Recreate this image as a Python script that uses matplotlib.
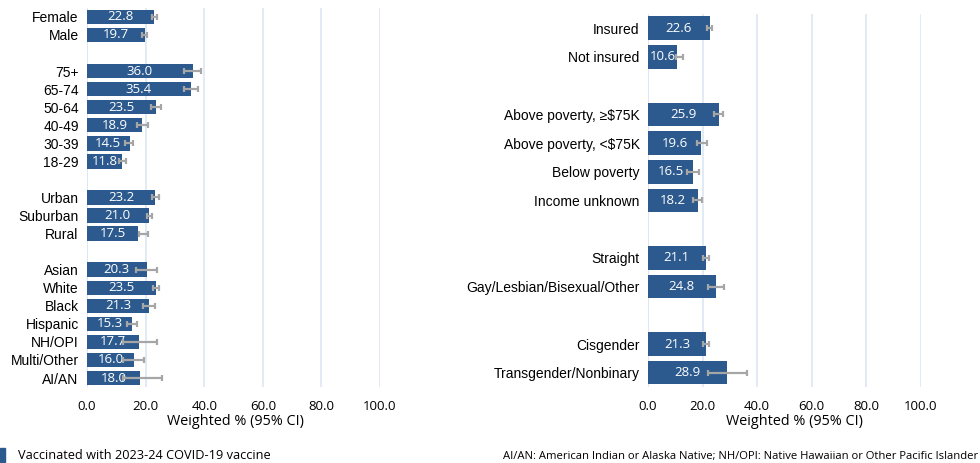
import numpy as np
import matplotlib.pyplot as plt
from matplotlib.patches import Rectangle

# left panel (None = blank spacer row)
left_labels = ['Female', 'Male', None,
               '75+', '65-74', '50-64', '40-49', '30-39', '18-29', None,
               'Urban', 'Suburban', 'Rural', None,
               'Asian', 'White', 'Black', 'Hispanic', 'NH/OPI', 'Multi/Other', 'AI/AN']
left_vals = [22.8, 19.7, None,
             36.0, 35.4, 23.5, 18.9, 14.5, 11.8, None,
             23.2, 21.0, 17.5, None,
             20.3, 23.5, 21.3, 15.3, 17.7, 16.0, 18.0]
left_lo = [22.2, 18.8, None,
           33.1, 33.1, 21.8, 17.0, 13.0, 11.0, None,
           22.1, 20.3, 17.9, None,
           16.7, 22.5, 19.0, 13.6, 12.4, 12.2, 12.4]
left_hi = [23.9, 20.5, None,
           38.9, 37.9, 25.2, 20.7, 15.8, 13.3, None,
           24.6, 22.1, 20.9, None,
           23.9, 24.6, 23.2, 17.1, 24.0, 19.4, 25.7]

# right panel
right_labels = ['Insured', 'Not insured', None,
                'Above poverty, ≥$75K', 'Above poverty, <$75K', 'Below poverty', 'Income unknown', None,
                'Straight', 'Gay/Lesbian/Bisexual/Other', None,
                'Cisgender', 'Transgender/Nonbinary']
right_vals = [22.6, 10.6, None, 25.9, 19.6, 16.5, 18.2, None, 21.1, 24.8, None, 21.3, 28.9]
right_lo = [21.6, 10.3, None, 24.2, 18.0, 14.3, 16.5, None, 20.1, 22.0, None, 20.3, 21.9]
right_hi = [23.4, 12.8, None, 27.5, 21.6, 18.7, 19.8, None, 22.3, 27.8, None, 22.3, 36.2]

ticks = [0, 20, 40, 60, 80, 100]
bar_col = '#2d5a8e'
err_col = '#a6a6a6'
grid_col = '#dce6f4'


def panel(ax, labels, vals, lo, hi, bh, xlab_x):
    n = len(labels)
    idx = [i for i in range(n) if vals[i] is not None]
    y = np.array(idx)
    v = np.array([vals[i] for i in idx])
    l = np.array([lo[i] for i in idx])
    h = np.array([hi[i] for i in idx])
    ax.barh(y, v, height=bh, color=bar_col, zorder=2)
    for yy, vv in zip(y, v):
        ax.text(vv / 2, yy, f'{vv:.1f}', color='white', ha='center', va='center',
                fontsize=9.5, family='Open Sans', zorder=3)
    # CI drawn around its own midpoint (some CIs sit off the bar end)
    ax.errorbar((l + h) / 2, y, xerr=(h - l) / 2, fmt='none', ecolor=err_col,
                elinewidth=1.6, capsize=2.5, capthick=1.6, zorder=4)
    ax.set_yticks(y)
    ax.set_yticklabels([labels[i] for i in idx], family='Liberation Sans', fontsize=10)
    ax.set_ylim(n - 0.5, -0.5)
    ax.set_xlim(0, 100)
    ax.set_xticks(ticks)
    ax.set_xticklabels([f'{t:.1f}' for t in ticks], family='Open Sans', fontsize=9.5)
    ax.tick_params(length=0, axis='x', pad=9)
    ax.tick_params(length=0, axis='y', pad=6)
    for s in ax.spines.values():
        s.set_visible(False)
    ax.xaxis.grid(True, color=grid_col, lw=1.2, zorder=0)
    ax.axvline(0, color=grid_col, lw=1.2, zorder=0)
    ax.set_axisbelow(True)
    ax.set_xlabel('Weighted % (95% CI)', family='Open Sans', fontsize=10.4)
    ax.xaxis.set_label_coords(xlab_x, -27 / (ax.get_position().height * 463))


fig = plt.figure(figsize=(9.8, 4.63), dpi=100)
ax1 = fig.add_axes([0.0888, 0.164, 0.299, 0.819])
ax2 = fig.add_axes([0.6612, 0.164, 0.2786, 0.806])

panel(ax1, left_labels, left_vals, left_lo, left_hi, 0.8, 0.505)
panel(ax2, right_labels, right_vals, right_lo, right_hi, 0.82, 0.535)

fig.patches.append(Rectangle((0.0, 0.003), 0.0055, 0.03, transform=fig.transFigure,
                             color=bar_col))
fig.text(0.0185, 0.017, 'Vaccinated with 2023-24 COVID-19 vaccine', family='Open Sans',
         fontsize=9.2, va='center', ha='left')
fig.text(0.998, 0.015, 'AI/AN: American Indian or Alaska Native; NH/OPI: Native Hawaiian or Other Pacific Islander',
         family='Open Sans', fontsize=8.1, va='center', ha='right')

fig.savefig('out.png', dpi=100)
